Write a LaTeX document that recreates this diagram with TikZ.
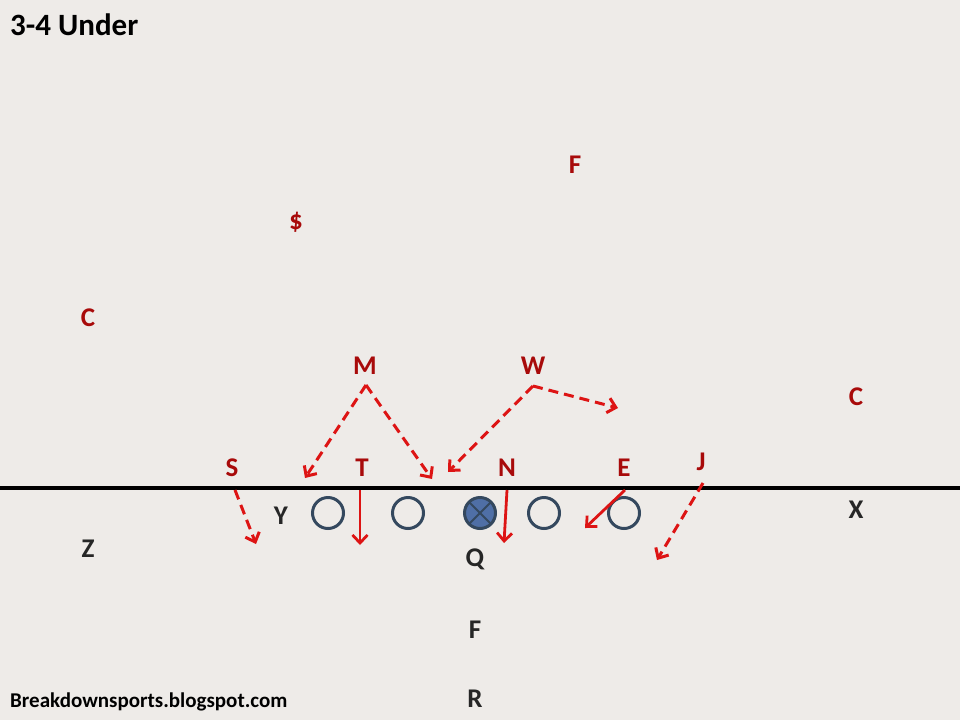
\documentclass[tikz,border=0pt]{standalone}
\usepackage{fontspec}
\setmainfont{Carlito}
\usetikzlibrary{arrows.meta,calc}
\definecolor{bg}{HTML}{EEEBE8}
\definecolor{lbl}{HTML}{A80A0A}
\definecolor{arr}{HTML}{DD1414}
\definecolor{ring}{HTML}{34485E}
\definecolor{ctr}{HTML}{4F6FA6}
\begin{document}
\begin{tikzpicture}[x=1pt,y=-1pt,
  deflbl/.style={text=lbl,font=\bfseries\fontsize{27}{27}\selectfont,inner sep=0pt},
  offlbl/.style={text=black!85,font=\bfseries\fontsize{27}{27}\selectfont,inner sep=0pt},
  lineman/.style={circle,draw=ring,line width=3pt,minimum size=31pt,inner sep=0pt},
  dashmove/.style={draw=arr,line width=3pt,dash pattern=on 10pt off 6pt,-{Straight Barb[length=8pt,width=15pt,line width=3pt]}},
  solidmove/.style={draw=arr,line width=2.8pt,-{Straight Barb[length=8pt,width=15pt,line width=2.8pt]}}]
\fill[bg] (0,0) rectangle (960,720);
\useasboundingbox (0,0) rectangle (960,720);
% titles
\node[anchor=west,font=\bfseries\fontsize{31}{31}\selectfont,inner sep=0pt] (title) at (10,25) {3-4 Under};
\node[anchor=west,font=\bfseries\fontsize{21}{21}\selectfont,inner sep=0pt] (footer) at (10,702) {Breakdownsports.blogspot.com};
% line of scrimmage
\coordinate (losL) at (0,488);
\coordinate (losR) at (960,488);
\draw[line width=3.2pt] (losL) -- (losR);
% defense labels
\node[deflbl] (Fs) at (575,165) {F};
\node[deflbl] (D) at (296,222) {\$};
\node[deflbl] (Cl) at (88,318) {C};
\node[deflbl] (M) at (365,366) {M};
\node[deflbl] (W) at (533,366) {W};
\node[deflbl] (Cr) at (856,397) {C};
\node[deflbl] (S) at (232,468) {S};
\node[deflbl] (T) at (362,468) {T};
\node[deflbl] (N) at (507,468) {N};
\node[deflbl] (E) at (624,468) {E};
\node[deflbl] (J) at (701,462) {J};
% offense
\node[offlbl] (Y) at (281,516) {Y};
\node[lineman] (LT) at (328,513) {};
\node[lineman] (LG) at (408,513) {};
\node[lineman,fill=ctr] (Ctr) at (480,513) {};
\draw[ring,line width=2pt] ($(Ctr.center)+(-11,-11)$) -- ($(Ctr.center)+(11,11)$);
\draw[ring,line width=2pt] ($(Ctr.center)+(-11,11)$) -- ($(Ctr.center)+(11,-11)$);
\node[lineman] (RG) at (544,513) {};
\node[lineman] (RT) at (624,513) {};
\node[offlbl] (X) at (856,510) {X};
\node[offlbl] (Z) at (88,549) {Z};
\node[offlbl] (Q) at (475,559) {Q};
\node[offlbl] (Fo) at (475,630) {F};
\node[offlbl] (R) at (475,699) {R};
% move endpoints
\coordinate (Mtop) at (366,385);
\coordinate (Wtop) at (533,386);
\coordinate (m1) at (305,478);
\coordinate (m2) at (432,479);
\coordinate (w1) at (448,472);
\coordinate (w2) at (618,408);
\coordinate (s0) at (235,490);
\coordinate (s1) at (256,544);
\coordinate (t0) at (360,490);
\coordinate (t1) at (360,545);
\coordinate (n0) at (507,490);
\coordinate (n1) at (504,543);
\coordinate (e0) at (625,490);
\coordinate (e1) at (585,528);
\coordinate (j0) at (703,483);
\coordinate (j1) at (657,560);
\draw[dashmove] (Mtop) -- (m1);
\draw[dashmove] (Mtop) -- (m2);
\draw[dashmove] (Wtop) -- (w1);
\draw[dashmove] (Wtop) -- (w2);
\draw[dashmove] (s0) -- (s1);
\draw[dashmove] (j0) -- (j1);
\draw[solidmove] (t0) -- (t1);
\draw[solidmove] (n0) -- (n1);
\draw[solidmove] (e0) -- (e1);
\end{tikzpicture}
\end{document}
